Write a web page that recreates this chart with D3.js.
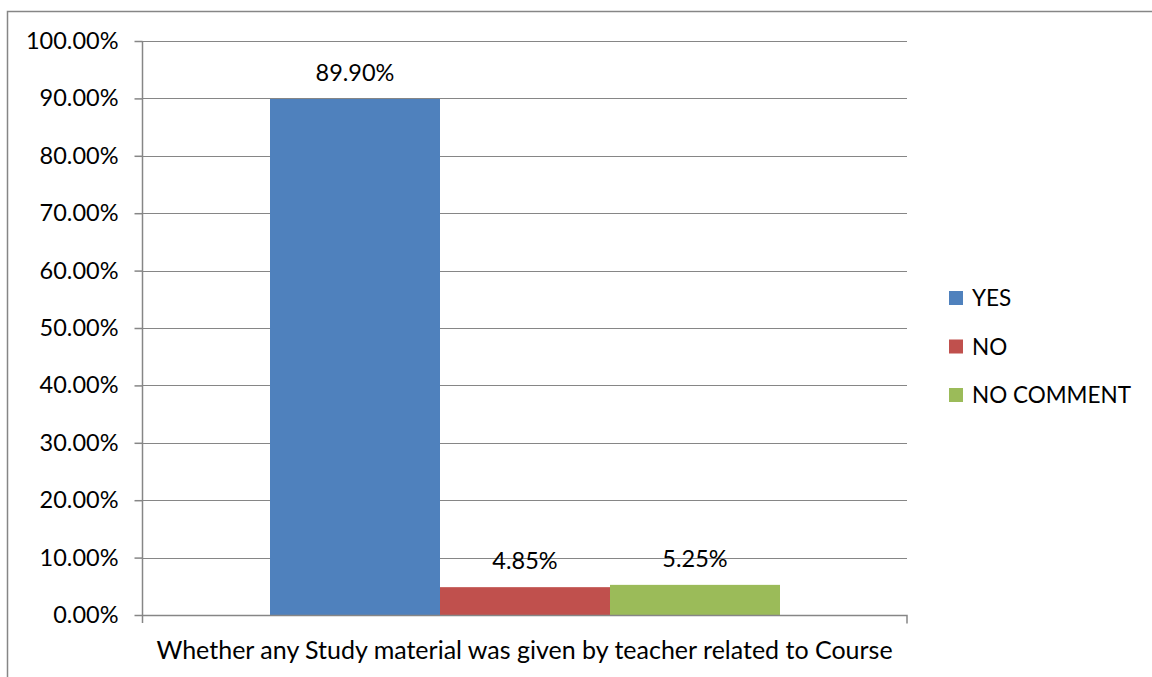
<!DOCTYPE html>
<html>
<head>
<meta charset="utf-8">
<script src="https://cdn.jsdelivr.net/npm/d3@7"></script>
<style>
body { margin: 0; background: #fff; }
svg { display: block; font-family: Lato, "Liberation Sans", sans-serif; }
</style>
</head>
<body>
<div class="container"></div>
<script>
// chart values
var categories = ["Whether any Study material was given by teacher related to Course"];
var seriesNames = ["YES", "NO", "NO COMMENT"];
var seriesValues = [0.899, 0.0485, 0.0525];
var seriesColors = ["#4f81bd", "#c0504d", "#9bbb59"];
var yTicks = [0, 0.1, 0.2, 0.3, 0.4, 0.5, 0.6, 0.7, 0.8, 0.9, 1.0];

var W = 1152, H = 677;
var plot = {left: 142, right: 907, top: 41, bottom: 615};
var font = "Lato, 'Liberation Sans', sans-serif";

var svg = d3.select(".container").append("svg")
	.attr("width", W)
	.attr("height", H);

// outer frame (right and bottom sit outside the window)
svg.append("rect")
	.attr("x", 7.5).attr("y", 11.5)
	.attr("width", W + 10).attr("height", H + 10)
	.attr("fill", "none")
	.attr("stroke", "#868686")
	.attr("stroke-width", 1.5);

var y = d3.scaleLinear().domain([0, 1]).range([plot.bottom, plot.top]);
var x0 = d3.scaleBand().domain(categories).range([plot.left, plot.right]).paddingInner(0).paddingOuter(0);
var x1 = d3.scaleBand().domain(seriesNames)
	.range([x0(categories[0]) + 128, x0(categories[0]) + x0.bandwidth() - 127])
	.padding(0);

// gridlines
svg.append("g")
	.selectAll("line")
	.data(yTicks.filter(function(d) { return d > 0; }))
	.join("line")
	.attr("x1", plot.left).attr("x2", plot.right)
	.attr("y1", function(d) { return Math.round(y(d)) + 0.5; })
	.attr("y2", function(d) { return Math.round(y(d)) + 0.5; })
	.attr("stroke", "#868686")
	.attr("stroke-width", 1.2);

// bars
var groups = svg.append("g")
	.selectAll("g")
	.data(categories)
	.join("g");

groups.selectAll("rect")
	.data(seriesNames.map(function(n, i) { return {name: n, value: seriesValues[i], color: seriesColors[i]}; }))
	.join("rect")
	.attr("x", function(d) { return x1(d.name); })
	.attr("width", x1.bandwidth())
	.attr("y", function(d) { return y(d.value); })
	.attr("height", function(d) { return plot.bottom - y(d.value); })
	.attr("fill", function(d) { return d.color; });

groups.selectAll("text")
	.data(seriesNames.map(function(n, i) { return {name: n, value: seriesValues[i]}; }))
	.join("text")
	.attr("x", function(d) { return x1(d.name) + x1.bandwidth() / 2; })
	.attr("y", function(d) { return y(d.value) - 18; })
	.attr("text-anchor", "middle")
	.attr("font-size", "23.5px")
	.attr("fill", "#000")
	.text(function(d) { return (d.value * 100).toFixed(2) + "%"; });

// y axis
var yAxis = d3.axisLeft(y)
	.tickValues(yTicks)
	.tickSize(8)
	.tickPadding(16)
	.tickFormat(function(d) { return (d * 100).toFixed(2) + "%"; });

var gy = svg.append("g")
	.attr("transform", "translate(" + (plot.left + 0.5) + ",0)")
	.call(yAxis);
gy.select(".domain").attr("stroke", "#868686").attr("stroke-width", 1.5)
	.attr("d", "M0," + plot.top + "V" + (plot.bottom + 8));
gy.selectAll(".tick line").attr("stroke", "#868686").attr("stroke-width", 1.5);
gy.selectAll(".tick text").attr("font-size", "23.5px").attr("fill", "#000")
	.attr("font-family", font);

// x axis
var xAxis = d3.axisBottom(x0).tickSize(0).tickPadding(0);
var gx = svg.append("g")
	.attr("transform", "translate(0," + (plot.bottom + 0.5) + ")")
	.call(xAxis);
gx.select(".domain").attr("stroke", "#868686").attr("stroke-width", 1.5)
	.attr("d", "M" + plot.left + ",0H" + plot.right + "V8");
gx.selectAll(".tick text").attr("font-size", "25px").attr("fill", "#000")
	.attr("font-family", font)
	.attr("dy", null)
	.attr("y", 43);

// legend
var legend = svg.append("g")
	.selectAll("g")
	.data(seriesNames)
	.join("g")
	.attr("transform", function(d, i) { return "translate(949," + (298 + i * 48.5) + ")"; });

legend.append("rect")
	.attr("x", 0).attr("y", -7)
	.attr("width", 14).attr("height", 14)
	.attr("fill", function(d, i) { return seriesColors[i]; });

legend.append("text")
	.attr("x", 23)
	.attr("y", 0)
	.attr("dy", "0.36em")
	.attr("font-size", "22.5px")
	.attr("fill", "#000")
	.text(function(d) { return d; });
</script>
</body>
</html>
